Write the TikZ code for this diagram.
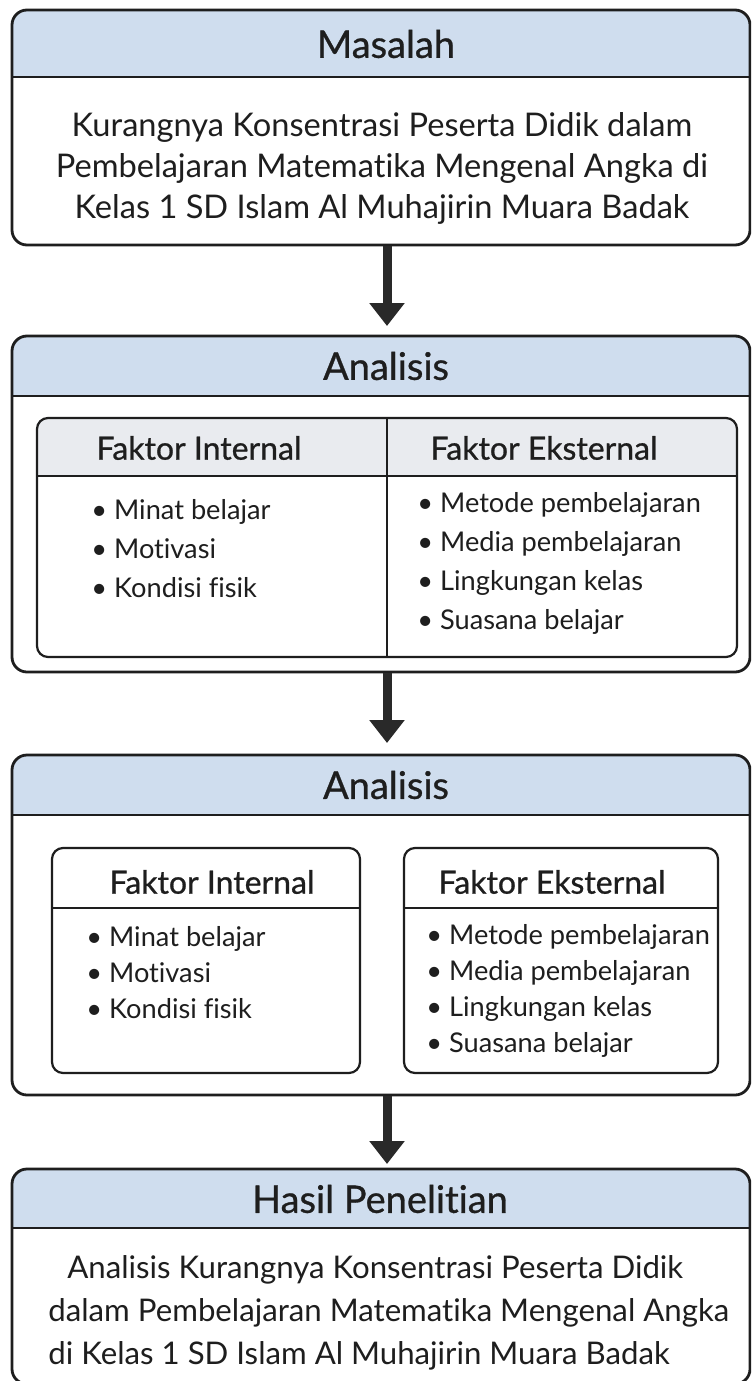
\documentclass[tikz,border=0pt]{standalone}
\usepackage{fontspec}
\setmainfont{Lato}[Ligatures=NoCommon]
\newfontfamily\headfont[FakeBold=0.8,Ligatures=NoCommon]{Lato}
\usetikzlibrary{arrows.meta}
\definecolor{headblue}{RGB}{207,221,238}
\definecolor{headgrey}{RGB}{233,235,239}
\definecolor{inkdark}{RGB}{30,30,30}
\tikzstyle{divider}=[draw=inkdark,line width=1pt]
\tikzstyle{paneltitle}=[font=\headfont\fontsize{19}{22}\selectfont,text=inkdark,inner sep=0pt]
\tikzstyle{bodytext}=[font=\fontsize{16.3}{20.5}\selectfont,text=inkdark,inner sep=0pt]
\tikzstyle{factorhead}=[font=\headfont\fontsize{16}{19}\selectfont,text=inkdark,inner sep=0pt]
\tikzstyle{itemlist}=[font=\fontsize{13.6}{19.5}\selectfont,text=inkdark,align=left,anchor=west,inner sep=0pt]
\tikzstyle{flowarrow}=[-{Triangle[width=17pt,length=11.5pt]},line width=4.5pt,draw=inkdark!95]
% card: x1, x2, top, header bottom, bottom, header fill, corner radius, border width
\newcommand{\drawcard}[8]{
\begin{scope}
\clip[rounded corners=#7] (#1,#3) rectangle (#2,#5);
\fill[#6] (#1,#3) rectangle (#2,#4);
\end{scope}
\draw[draw=inkdark,line width=#8,rounded corners=#7] (#1,#3) rectangle (#2,#5);
\draw[divider] (#1,#4) -- (#2,#4);
}
\newcommand{\bul}{\textbullet\hspace{3.5pt}}

\begin{document}
\begin{tikzpicture}[x=0.5pt,y=-0.5pt]
  \useasboundingbox (0,0) rectangle (751,1381);
  \fill[white] (0,0) rectangle (751,1381);
  \clip (0,0) rectangle (751,1381);

  % Masalah
  \drawcard{12}{750}{10}{77}{245}{headblue}{7.5pt}{1.4pt}
  \node[paneltitle] (masalah) at (386,44) {Masalah};
  \node[bodytext,align=center] (masalahtext) at (382,168)
    {Kurangnya Konsentrasi Peserta Didik dalam\\
     Pembelajaran Matematika Mengenal Angka di\\
     Kelas 1 SD Islam Al Muhajirin Muara Badak};

  % Analisis (tabel)
  \drawcard{12}{750}{336}{396}{672}{headblue}{7.5pt}{1.4pt}
  \node[paneltitle] (analisisA) at (386,366) {Analisis};
  \drawcard{37}{737}{418}{476}{657}{headgrey}{5.5pt}{1.1pt}
  \draw[divider] (387,418) -- (387,657);
  \node[factorhead] (internA) at (199,448) {Faktor Internal};
  \node[factorhead] (eksternA) at (544,448) {Faktor Eksternal};
  \node[itemlist] (internlistA) at (91,549)
    {\bul Minat belajar\\ \bul Motivasi\\ \bul Kondisi fisik};
  \node[itemlist] (eksternlistA) at (417,563)
    {\bul Metode pembelajaran\\ \bul Media pembelajaran\\ \bul Lingkungan kelas\\ \bul Suasana belajar};

  % Analisis (dua kotak)
  \drawcard{12}{750}{755}{815}{1095}{headblue}{7.5pt}{1.4pt}
  \node[paneltitle] (analisisB) at (386,785) {Analisis};
  \drawcard{52}{360}{848}{908}{1073}{white}{5.5pt}{1.1pt}
  \drawcard{404}{718}{848}{908}{1073}{white}{5.5pt}{1.1pt}
  \node[factorhead] (internB) at (212,882) {Faktor Internal};
  \node[factorhead] (eksternB) at (552,882) {Faktor Eksternal};
  \node[itemlist,font=\fontsize{13.6}{18}\selectfont] (internlistB) at (86,973)
    {\bul Minat belajar\\ \bul Motivasi\\ \bul Kondisi fisik};
  \node[itemlist,font=\fontsize{13.6}{18}\selectfont] (eksternlistB) at (426,991)
    {\bul Metode pembelajaran\\ \bul Media pembelajaran\\ \bul Lingkungan kelas\\ \bul Suasana belajar};

  % Hasil Penelitian
  \drawcard{12}{750}{1169}{1228}{1384}{headblue}{7.5pt}{1.4pt}
  \node[paneltitle] (hasil) at (380,1199) {Hasil Penelitian};
  \node[bodytext,align=left,anchor=west,font=\fontsize{15.6}{21.5}\selectfont] (hasiltext) at (48,1313)
    {\hspace{9.5pt}Analisis Kurangnya Konsentrasi Peserta Didik\\
     dalam Pembelajaran Matematika Mengenal Angka\\
     di Kelas 1 SD Islam Al Muhajirin Muara Badak};

  % panah
  \coordinate (p1bot) at (387,246);
  \coordinate (p2top) at (387,326);
  \coordinate (p2bot) at (387,673);
  \coordinate (p3top) at (387,743);
  \coordinate (p3bot) at (387,1096);
  \coordinate (p4top) at (387,1164);
  \draw[flowarrow] (p1bot) -- (p2top);
  \draw[flowarrow] (p2bot) -- (p3top);
  \draw[flowarrow] (p3bot) -- (p4top);
\end{tikzpicture}
\end{document}
